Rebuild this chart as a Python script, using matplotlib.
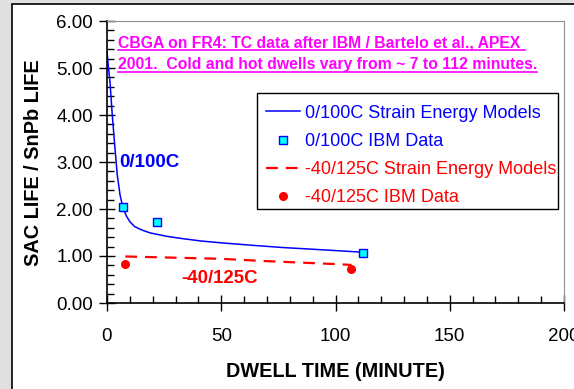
import matplotlib.pyplot as plt
from matplotlib.patches import Rectangle
from matplotlib.lines import Line2D
from matplotlib.ticker import MultipleLocator, FormatStrFormatter

plt.rcParams['font.family'] = ['Liberation Sans', 'DejaVu Sans']

# 0/100C strain energy model curve and IBM data
model_100_x = [0, 0.6, 1.3, 2.3, 3.5, 4.5, 5.7, 7.1, 8.5, 10, 12, 14, 16, 19, 22, 26,
               33, 41, 50, 63, 77, 95, 112]
model_100_y = [5.35, 5.02, 4.71, 4.00, 3.29, 2.72, 2.30, 2.01, 1.85, 1.73, 1.63, 1.58, 1.54,
               1.49, 1.46, 1.42, 1.37, 1.32, 1.28, 1.23, 1.18, 1.13, 1.08]
ibm_100_x = [7, 22, 112]
ibm_100_y = [2.05, 1.72, 1.07]

# -40/125C strain energy model curve and IBM data
model_125_x = [8, 50, 70, 99, 107]
model_125_y = [0.99, 0.94, 0.89, 0.83, 0.81]
ibm_125_x = [8, 107]
ibm_125_y = [0.82, 0.73]

labels = ["0/100C Strain Energy Models", "0/100C IBM Data",
          "-40/125C Strain Energy Models", "-40/125C IBM Data"]
label_colors = ["#0000ff", "#0000ff", "#ff0000", "#ff0000"]

W, H = 574, 389
fig = plt.figure(figsize=(W / 100, H / 100), dpi=100)
fig.patch.set_facecolor("#e0e0e0")

# white chart panel with black frame
fig.patches.append(Rectangle((12 / W, -0.1), 1.2, 1 - 4 / H + 0.1, transform=fig.transFigure,
                             facecolor="white", edgecolor="black", lw=1.2, zorder=-1))

ax = fig.add_axes([107 / W, 1 - 303 / H, (564 - 107) / W, (303 - 21) / H])

ax.plot(model_100_x, model_100_y, color="#0000ff", lw=1.1, label=labels[0])
ax.plot(ibm_100_x, ibm_100_y, ls="none", marker="s", ms=5.5, mfc="#00ffff", mec="#0000ff",
        mew=1, label=labels[1], zorder=3)
ax.plot(model_125_x, model_125_y, color="#ff0000", lw=1.6, dashes=(5.3, 3.6), label=labels[2])
ax.plot(ibm_125_x, ibm_125_y, ls="none", marker="o", ms=5.5, mfc="#ff0000", mec="#ff0000",
        label=labels[3], zorder=3)

ax.set_xlim(0, 200)
ax.set_ylim(0, 6)
ax.xaxis.set_major_locator(MultipleLocator(50))
ax.xaxis.set_minor_locator(MultipleLocator(10))
ax.yaxis.set_major_locator(MultipleLocator(1))
ax.yaxis.set_minor_locator(MultipleLocator(0.2))
ax.yaxis.set_major_formatter(FormatStrFormatter("%.2f"))
ax.tick_params(which="major", direction="inout", length=12, width=1, labelsize=13.5, pad=4)
ax.tick_params(axis="x", which="major", pad=12)
ax.tick_params(which="minor", direction="in", length=5, width=1)

for side in ["top", "right"]:
    ax.spines[side].set_color("#909090")
for side in ["left", "bottom"]:
    ax.spines[side].set_linewidth(1.2)

ax.set_xlabel("DWELL TIME (MINUTE)", fontsize=14.3, fontweight="bold", labelpad=12)
fig.text(34 / W, 1 - 163 / H, "SAC LIFE / SnPb LIFE", rotation=90, ha="center", va="center",
         fontsize=14.3, fontweight="bold")

ax.text(5.3, 3.0, "0/100C", color="#0000ff", fontsize=13.5, fontweight="bold", va="center")
ax.text(32.4, 0.53, "-40/125C", color="#ff0000", fontsize=13.4, fontweight="bold", va="center")

# legend with a drawn box
ax.add_patch(Rectangle((257 / W, 1 - 209 / H), (558 - 257) / W, (209 - 93) / H,
                       transform=fig.transFigure, facecolor="white", edgecolor="black",
                       lw=1, zorder=4))
leg = ax.legend(loc="upper left", bbox_to_anchor=(254 / W, 1 - 93 / H),
                bbox_transform=fig.transFigure, frameon=False, fontsize=13,
                handlelength=1.9, handletextpad=0.3, borderpad=0.65, borderaxespad=0,
                labelspacing=0.62)
leg.set_zorder(5)
for t, c in zip(leg.get_texts(), label_colors):
    t.set_color(c)

# underlined magenta note
note_lines = ["CBGA on FR4: TC data after IBM / Bartelo et al., APEX ",
              "2001.  Cold and hot dwells vary from ~ 7 to 112 minutes."]
note_y = [43.5, 65]
fig.canvas.draw()
r = fig.canvas.get_renderer()
for s, y in zip(note_lines, note_y):
    t = fig.text(118 / W, 1 - y / H, s, color="#ff00ff", fontsize=11.3, fontweight="bold",
                 va="center", ha="left")
    bb = t.get_window_extent(r)
    uy = (H - y - 6.5) / H
    fig.lines.append(Line2D([bb.x0 / W, bb.x1 / W], [uy, uy], transform=fig.transFigure,
                            color="#ff00ff", lw=1.2))

fig.savefig("out.png", dpi=100, facecolor=fig.get_facecolor())
